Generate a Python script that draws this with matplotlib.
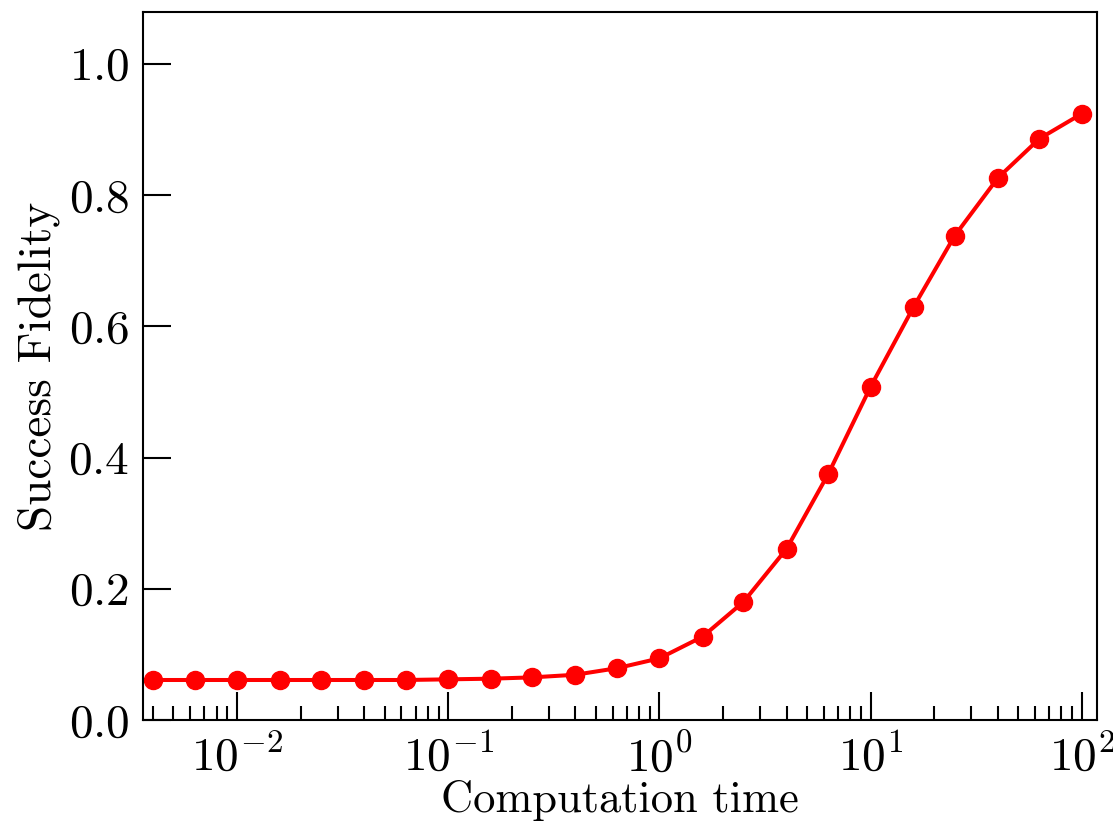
import numpy as np
import matplotlib
matplotlib.use("Agg")
import matplotlib.pyplot as plt
from matplotlib.ticker import LogLocator, NullLocator

plt.rcParams['font.family'] = 'serif'
plt.rcParams['font.serif'] = ['cmr10']
plt.rcParams['mathtext.fontset'] = 'cm'
plt.rcParams['axes.formatter.use_mathtext'] = True

# Data
comp_time = [0.004, 0.0063, 0.01, 0.016, 0.025, 0.04, 0.063, 0.1, 0.16, 0.25,
             0.4, 0.63, 1.0, 1.6, 2.5, 4.0, 6.3, 10.0, 16.0, 25.0, 40.0, 63.0, 100.0]
fidelity = [0.061, 0.061, 0.061, 0.061, 0.061, 0.061, 0.061, 0.062, 0.063, 0.065,
            0.069, 0.079, 0.094, 0.127, 0.180, 0.261, 0.375, 0.508, 0.630, 0.738,
            0.826, 0.886, 0.924]

fig = plt.figure(figsize=(11.13, 8.26), dpi=100)
ax = fig.add_axes([0.1285, 0.1283, 0.857, 0.8572])

ax.plot(comp_time, fidelity, color='red', lw=2.9, marker='o', ms=13)

ax.set_xscale('log')
ax.set_xlim(10**-2.445, 10**2.071)
ax.set_ylim(0, 1.079)
ax.set_yticks([0.0, 0.2, 0.4, 0.6, 0.8, 1.0])
ax.yaxis.set_minor_locator(NullLocator())
ax.xaxis.set_major_locator(LogLocator(base=10, numticks=10))
ax.xaxis.set_minor_locator(LogLocator(base=10, subs=np.arange(2, 10), numticks=20))

ax.tick_params(which='both', direction='in', labelsize=34, width=1.5)
ax.tick_params(which='major', length=20, pad=10)
ax.tick_params(which='minor', length=10)
for s in ax.spines.values():
    s.set_linewidth(1.5)

ax.set_xlabel("Computation time", fontsize=32, labelpad=0)
ax.set_ylabel("Success Fidelity", fontsize=34, labelpad=6)

fig.savefig("out.png", dpi=100)
